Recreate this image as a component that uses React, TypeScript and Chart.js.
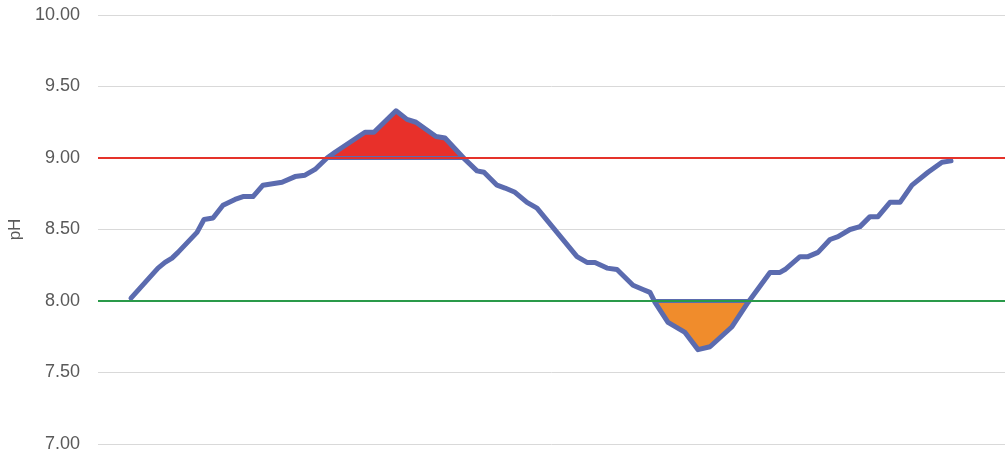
import React, { useEffect, useRef } from "react";
import { Chart, registerables } from "chart.js";

Chart.register(...registerables);

// Sample times (arbitrary time units along the run)
const sampleTimes = [
  3.3, 6.0, 6.7, 7.4, 8.0, 9.9, 10.6, 11.5, 12.5, 13.7, 14.5, 15.5, 16.5, 18.4, 19.7, 20.7, 21.7, 22.9, 23.7,
  26.7, 27.6, 29.8, 30.9, 31.8, 33.8, 34.7, 36.7, 37.9, 38.6, 39.9, 40.7, 41.7, 42.9, 43.9, 45.9, 47.9, 48.9,
  49.7, 50.9, 51.9, 53.5, 54.5, 55.2, 55.7, 57.0, 58.7, 60.0, 61.2, 63.4, 65.0, 67.2, 68.2, 68.7, 70.2, 71.0,
  72.0, 73.2, 74.0, 75.2, 76.2, 77.2, 78.0, 79.2, 80.2, 81.4, 83.0, 84.4, 85.3,
];

// Measured pH at each sample time
const phValues = [
  8.02, 8.23, 8.27, 8.3, 8.34, 8.48, 8.57, 8.58, 8.67, 8.71, 8.73, 8.73, 8.81, 8.83, 8.87, 8.88, 8.92, 9.0, 9.04,
  9.18, 9.18, 9.33, 9.27, 9.25, 9.15, 9.14, 8.99, 8.91, 8.9, 8.81, 8.79, 8.76, 8.69, 8.65, 8.48, 8.31, 8.27,
  8.27, 8.23, 8.22, 8.11, 8.08, 8.06, 7.99, 7.85, 7.78, 7.66, 7.68, 7.82, 7.99, 8.2, 8.2, 8.22, 8.31, 8.31,
  8.34, 8.43, 8.45, 8.5, 8.52, 8.59, 8.59, 8.69, 8.69, 8.81, 8.9, 8.97, 8.98,
];

const upperLimit = 9.0;
const lowerLimit = 8.0;
const timeRange = [0, 90.7];
const yRange = [7, 10];
const yStep = 0.5;
const yTitle = "pH";

// Baseline segments of the regions where the series goes beyond a limit
function excursionEdges(limit: number, above: boolean) {
  const out: { x: number; y: number | null }[] = [];
  const beyond = (v: number) => (above ? v > limit : v < limit);
  let start: number | null = null;
  for (let i = 0; i < phValues.length; i++) {
    const v = phValues[i];
    const prevV = i > 0 ? phValues[i - 1] : v;
    const crossX = () => {
      const t0 = sampleTimes[i - 1];
      const t1 = sampleTimes[i];
      return t0 + ((limit - prevV) / (v - prevV)) * (t1 - t0);
    };
    if (beyond(v) && start === null) {
      start = i > 0 && !beyond(prevV) ? crossX() : sampleTimes[i];
    } else if (!beyond(v) && start !== null) {
      const end = v === limit ? sampleTimes[i] : crossX();
      out.push({ x: start, y: limit }, { x: end, y: limit }, { x: end, y: null });
      start = null;
    }
  }
  return out;
}

export default function App() {
  const canvasRef = useRef<HTMLCanvasElement | null>(null);

  useEffect(() => {
    const canvas = canvasRef.current;
    if (!canvas) return;
    const points = sampleTimes.map((t, i) => ({ x: t, y: phValues[i] }));
    const limitLine = (v: number) => [
      { x: timeRange[0], y: v },
      { x: timeRange[1], y: v },
    ];
    const chart = new Chart(canvas, {
      type: "line",
      data: {
        datasets: [
          {
            label: "upper",
            data: limitLine(upperLimit),
            borderColor: "#E5322A",
            borderWidth: 2,
            pointRadius: 0,
            fill: false,
          },
          {
            label: "lower",
            data: limitLine(lowerLimit),
            borderColor: "#2A9A4A",
            borderWidth: 2,
            pointRadius: 0,
            fill: false,
          },
          {
            label: "edges",
            data: [...excursionEdges(upperLimit, true), ...excursionEdges(lowerLimit, false)] as any,
            borderColor: "#5B6BAF",
            borderWidth: 4,
            pointRadius: 0,
            spanGaps: false,
            fill: false,
          },
          {
            label: "pH",
            data: points,
            borderColor: "#5B6BAF",
            borderWidth: 5,
            borderJoinStyle: "round",
            borderCapStyle: "round",
            pointRadius: 0,
            tension: 0,
            fill: { target: { value: upperLimit }, above: "#E8302A", below: "rgba(0,0,0,0)" },
          },
          {
            label: "low fill",
            data: points,
            borderWidth: 0,
            borderColor: "rgba(0,0,0,0)",
            pointRadius: 0,
            tension: 0,
            fill: { target: { value: lowerLimit }, above: "rgba(0,0,0,0)", below: "#F08C2C" },
          },
        ],
      },
      options: {
        animation: false,
        responsive: false,
        maintainAspectRatio: false,
        layout: { padding: { top: 15, bottom: 11, left: 0, right: 0 } },
        plugins: { legend: { display: false }, tooltip: { enabled: false } },
        scales: {
          x: {
            type: "linear",
            display: false,
            min: timeRange[0],
            max: timeRange[1],
          },
          y: {
            min: yRange[0],
            max: yRange[1],
            afterFit: (scale: any) => {
              scale.width = 98;
            },
            ticks: {
              stepSize: yStep,
              padding: 0,
              color: "#595959",
              font: { family: "'Liberation Sans', Arial, sans-serif", size: 18 },
              callback: (v: any) => Number(v).toFixed(2),
            },
            grid: { color: "#D9D9D9", lineWidth: 1, drawTicks: true, tickLength: 18, tickColor: "rgba(0,0,0,0)" },
            border: { display: false },
            title: {
              display: true,
              text: yTitle,
              color: "#595959",
              font: { family: "'Liberation Sans', Arial, sans-serif", size: 17 },
              padding: { top: 5, bottom: 0 },
            },
          },
        },
      },
    });
    return () => chart.destroy();
  }, []);

  return (
    <div style={{ position: "absolute", left: 0, top: 0, width: 1005, height: 455, background: "#fff" }}>
      <canvas ref={canvasRef} width={1005} height={455} />
    </div>
  );
}
